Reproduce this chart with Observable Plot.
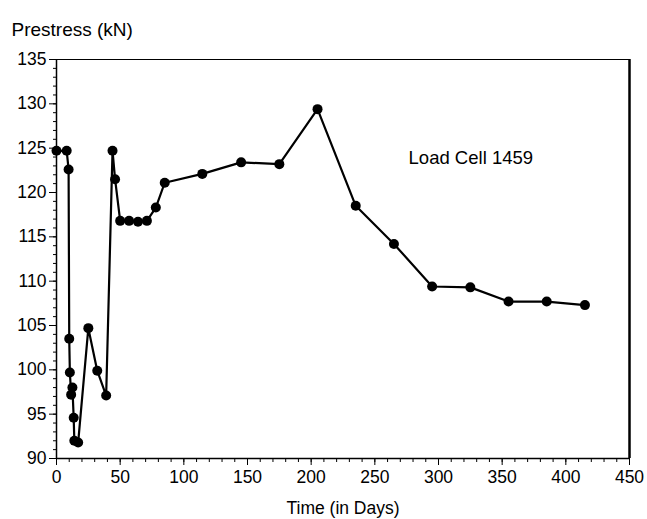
<!DOCTYPE html>
<html>
<head>
<meta charset="utf-8">
<script src="https://cdn.jsdelivr.net/npm/d3@7"></script>
<script src="https://cdn.jsdelivr.net/npm/@observablehq/plot@0.6"></script>
<style>
  html, body { margin: 0; padding: 0; background: #fff; }
</style>
</head>
<body>
<div id="chart"></div>
<script>
// Load cell 1459: prestress force over time
const days = [0, 8, 9.5, 10, 10.5, 11.5, 12.5, 13.5, 14, 17, 25, 32, 39, 44, 46, 50, 57, 64, 71, 78, 85,
              114.5, 145, 175, 205, 235, 265, 295, 325, 355, 385, 415];
const prestress = [124.7, 124.7, 122.6, 103.5, 99.7, 97.2, 98.0, 94.6, 92.0, 91.8, 104.7, 99.9, 97.1,
                   124.7, 121.5, 116.8, 116.8, 116.7, 116.8, 118.3, 121.1,
                   122.1, 123.4, 123.2, 129.4, 118.5, 114.2, 109.4, 109.3, 107.7, 107.7, 107.3];
const xTicks = d3.range(0, 451, 50);
const yTicks = d3.range(90, 136, 5);
const xMinor = d3.range(0, 451, 10);
const yMinor = d3.range(90, 136, 1);
const seriesLabel = "Load Cell 1459";

const data = days.map((d, i) => ({day: d, value: prestress[i]}));

const chart = Plot.plot({
  width: 647,
  height: 519,
  marginLeft: 56,
  marginRight: 18,
  marginTop: 59,
  marginBottom: 61,
  style: {fontFamily: "'Liberation Sans', Arial, sans-serif", fontSize: "17px", color: "#000", background: "#fff"},
  x: {domain: [0, 450]},
  y: {domain: [90, 135]},
  marks: [
    // minor ticks
    Plot.axisX({ticks: xMinor, tickSize: 4, tickFormat: null, label: null, text: null}),
    Plot.axisY({ticks: yMinor, tickSize: 3, tickFormat: null, label: null, text: null}),
    // major ticks and labels
    Plot.axisX({ticks: xTicks, tickSize: 7, tickPadding: 5, fontSize: 17.5,
                label: "Time (in Days)", labelAnchor: "center", labelOffset: 55, labelArrow: "none"}),
    Plot.axisY({ticks: yTicks, tickSize: 7, tickPadding: 3, fontSize: 17.5, label: null}),
    // frame
    Plot.ruleY([135], {stroke: "#000", strokeWidth: 1}),
    Plot.ruleX([450], {stroke: "#000", strokeWidth: 2.5}),
    Plot.ruleX([0], {stroke: "#000", strokeWidth: 1.5}),
    Plot.ruleY([90], {stroke: "#000", strokeWidth: 1.5}),
    // series
    Plot.line(data, {x: "day", y: "value", stroke: "#000", strokeWidth: 2.2}),
    Plot.dot(data, {x: "day", y: "value", r: 5, fill: "#000", stroke: "none"}),
    Plot.text([seriesLabel], {x: 276.5, y: 123.9, text: d => d, textAnchor: "start", fontSize: 18.5, fill: "#000"}),
    // y-axis title
    Plot.text(["Prestress (kN)"], {frameAnchor: "top-left", dx: -45, dy: -37, text: d => d,
                                   textAnchor: "start", fontSize: 19, fill: "#000"})
  ]
});
document.getElementById("chart").appendChild(chart);
</script>
</body>
</html>
